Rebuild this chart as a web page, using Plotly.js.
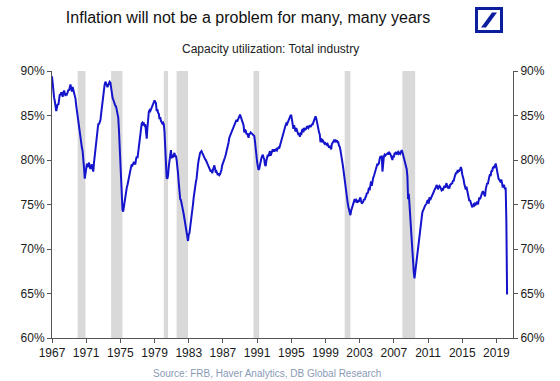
<!DOCTYPE html>
<html><head><meta charset="utf-8">
<script src="https://cdn.plot.ly/plotly-3.0.1.min.js"></script>
<style>html,body{margin:0;padding:0;background:#fff;} #chart{width:560px;height:381px;}</style>
</head><body><div id="chart"></div>
<script>
// Capacity utilization: Total industry (%), monthly from Jan 1967
const startYear = 1967;
const cu1967_1979 = [
89.4,88.4,87.6,87.0,86.6,86.1,85.5,85.9,86.3,86.2,86.9,87.4,
87.3,87.6,87.4,87.1,87.6,87.8,87.5,87.2,87.5,87.4,87.6,87.9,
87.8,88.2,88.5,88.0,87.7,88.2,87.9,87.6,87.3,86.9,86.1,85.5,
84.5,84.0,83.5,82.8,82.3,81.8,81.4,81.0,80.3,79.1,77.9,78.6,
79.4,79.6,79.2,79.5,79.7,79.3,79.0,79.3,79.5,79.0,78.7,79.7,
80.5,81.2,82.0,83.0,83.8,84.1,84.0,84.3,84.5,85.2,86.0,86.8,
87.3,88.0,88.5,88.8,88.6,88.3,88.2,88.4,88.6,88.8,88.7,88.2,
87.2,87.0,86.8,86.5,86.3,86.1,86.0,85.7,85.4,84.8,83.4,81.2,
79.4,77.2,75.2,74.4,74.2,74.8,75.5,76.2,76.7,76.9,77.2,77.6,
78.4,78.8,78.9,79.2,79.5,79.4,79.6,79.8,79.6,79.5,80.1,80.4,
80.2,80.9,81.8,82.5,83.2,83.8,84.1,84.2,84.0,84.1,83.9,84.0,
82.9,82.4,83.6,85.2,85.4,85.6,85.5,85.7,85.9,86.2,86.5,86.6,
86.7,86.5,86.4,85.5,85.7,85.3,85.2,84.6,84.8,84.4,84.3,84.1];
const cu1980_1992 = [
84.2,84.0,83.2,80.9,79.0,78.0,77.9,78.3,79.3,79.8,80.7,81.1,
80.2,80.6,80.3,80.5,80.8,80.4,80.5,80.0,79.4,78.5,77.4,76.3,
75.6,75.5,75.0,74.5,74.2,73.9,73.4,72.8,72.2,71.8,71.2,70.9,
71.6,71.8,72.4,73.0,73.4,74.0,75.0,75.8,76.6,77.2,77.5,77.9,
79.0,79.5,80.0,80.5,80.8,80.9,81.0,80.8,80.6,80.3,80.2,80.1,
80.0,79.8,79.6,79.5,79.3,79.2,78.9,78.7,78.9,78.5,78.9,79.3,
79.4,79.0,78.6,78.7,78.4,78.3,78.5,78.3,78.4,78.6,78.9,79.4,
79.6,80.0,80.1,80.3,80.6,80.9,81.3,81.6,82.0,82.5,82.7,82.9,
83.2,83.4,83.6,83.7,83.9,84.0,84.3,84.5,84.3,84.6,84.7,84.9,
85.1,84.8,84.5,84.4,84.1,83.9,83.1,83.4,83.3,82.9,83.0,82.6,
82.5,83.0,82.9,83.1,83.0,82.9,82.9,82.8,82.7,82.1,81.1,80.4,
79.8,79.3,78.9,79.0,79.5,80.1,80.2,80.4,80.6,80.3,80.1,79.5,
79.3,79.9,80.3,80.6,80.4,80.6,81.0,80.5,80.7,81.1,81.2,81.0];
const cu1993_2005 = [
81.0,81.2,81.0,81.2,81.1,81.3,81.4,81.3,81.6,82.0,82.3,82.7,
82.9,83.0,83.4,83.6,83.9,84.1,84.0,84.2,84.4,84.6,84.9,85.0,
85.0,84.6,84.1,83.5,83.9,83.6,83.2,83.6,83.3,83.0,82.8,83.0,
82.6,83.1,82.8,83.3,83.5,83.1,83.6,83.4,83.5,83.5,83.8,83.6,
83.6,83.8,83.9,83.7,83.9,84.0,84.0,84.3,84.5,84.6,84.9,84.7,
84.2,83.8,83.4,83.1,82.9,82.0,82.4,82.3,82.0,82.1,81.9,81.8,
81.9,81.8,81.7,81.8,81.5,81.4,81.6,81.3,81.2,81.8,82.0,82.1,
82.2,82.1,82.3,82.0,82.2,82.0,82.0,81.6,81.5,81.1,80.7,80.2,
79.6,79.0,78.3,77.8,77.2,76.4,75.8,75.3,74.8,74.3,73.9,73.8,
74.3,74.6,74.9,75.1,75.3,75.6,75.4,75.5,75.3,75.2,75.5,75.3,
75.6,75.8,75.4,75.1,75.2,75.3,75.6,75.5,75.8,75.9,76.3,76.2,
76.5,76.9,76.6,77.1,77.6,77.1,77.8,78.0,78.2,78.5,78.6,79.0,
79.3,79.6,79.5,79.6,80.1,80.4,80.3,80.5,78.7,79.7,80.4,80.6];
const cu2006_2020 = [
80.5,80.6,80.7,80.8,80.8,80.6,80.8,80.7,80.4,80.2,80.0,80.5,
80.3,80.8,80.7,80.9,80.6,80.8,80.9,80.7,80.8,80.7,81.0,81.1,
80.9,80.6,80.4,79.9,79.6,79.4,79.0,78.2,75.6,76.2,74.8,73.3,
71.9,70.6,69.2,68.3,67.4,66.7,67.4,68.1,68.8,69.3,69.7,70.4,
71.6,72.2,72.9,73.3,74.1,74.3,74.6,74.8,74.9,75.0,75.1,75.4,
75.5,75.1,75.8,75.5,75.7,75.9,76.2,76.4,76.6,76.7,76.8,76.9,
77.2,77.0,76.7,77.0,77.1,77.0,76.8,76.6,76.7,76.6,76.9,77.1,
76.9,77.2,77.4,77.0,76.9,77.1,76.8,77.2,77.3,77.4,77.4,77.7,
77.6,78.0,78.4,78.5,78.5,78.7,78.6,78.9,78.8,78.9,79.2,79.0,
78.4,78.2,77.8,77.3,77.0,76.7,77.0,76.5,76.2,76.0,75.4,75.5,
75.1,75.0,74.7,74.8,75.0,74.9,75.1,75.0,75.1,75.3,75.0,75.6,
75.8,75.6,75.9,76.3,76.3,76.5,76.3,76.0,75.9,76.7,77.1,77.4,
77.3,77.9,78.1,78.4,78.2,78.8,78.7,79.1,79.2,79.1,79.4,79.6,
79.2,78.6,78.3,77.9,77.8,77.7,77.5,77.8,77.3,76.9,77.2,77.1,
76.7,76.9,73.2,64.9];

// US recessions (shaded)
const recessionStarts = ['1970-01-01','1973-12-01','1980-02-01','1981-08-01','1990-08-01','2001-04-01','2008-01-01'];
const recessionEnds   = ['1970-11-30','1975-03-31','1980-07-31','1982-11-30','1991-03-31','2001-11-30','2009-06-30'];

const yTicks = [60, 65, 70, 75, 80, 85, 90];
const xTickYears = [1967,1971,1975,1979,1983,1987,1991,1995,1999,2003,2007,2011,2015,2019];

const values = [].concat(cu1967_1979, cu1980_1992, cu1993_2005, cu2006_2020);
const dates = values.map((v, i) => {
  const y = startYear + Math.floor(i / 12);
  const m = (i % 12) + 1;
  return y + '-' + String(m).padStart(2, '0') + '-01';
});

const W = 560, H = 381;
const M = {l: 52, r: 47, t: 71, b: 43};
const pw = W - M.l - M.r, ph = H - M.t - M.b;
const px = x => (x - M.l) / pw;
const py = y => (H - M.b - y) / ph;

const FONT = 'Liberation Sans, Arial, sans-serif';
const lineColor = '#1414cc';

const traces = [
  {x: dates, y: values, type: 'scatter', mode: 'lines',
   line: {color: lineColor, width: 2}, hoverinfo: 'skip', showlegend: false},
  {x: dates, y: values, type: 'scatter', mode: 'lines', yaxis: 'y2',
   line: {color: 'rgba(0,0,0,0)', width: 0}, hoverinfo: 'skip', showlegend: false}
];

const shapes = recessionStarts.map((s, i) => ({
  type: 'rect', xref: 'x', yref: 'paper', x0: s, x1: recessionEnds[i], y0: 0, y1: 1,
  fillcolor: '#d9d9d9', line: {width: 0}, layer: 'below'
}));

// Deutsche Bank logo
const navy = '#0b1f9e';
shapes.push({type: 'rect', xref: 'paper', yref: 'paper',
  x0: px(475), x1: px(503), y0: py(33), y1: py(7),
  fillcolor: navy, line: {width: 0}, layer: 'above'});
shapes.push({type: 'rect', xref: 'paper', yref: 'paper',
  x0: px(478), x1: px(500), y0: py(30), y1: py(10),
  fillcolor: '#ffffff', line: {width: 0}, layer: 'above'});
shapes.push({type: 'path', xref: 'paper', yref: 'paper',
  path: `M ${px(481)} ${py(27.5)} L ${px(486)} ${py(27.5)} L ${px(497)} ${py(12.5)} L ${px(492)} ${py(12.5)} Z`,
  fillcolor: navy, line: {width: 0}, layer: 'above'});

const axisCommon = {
  showgrid: false, zeroline: false, showline: true, linecolor: '#555', linewidth: 1,
  ticks: 'outside', ticklen: 4, tickcolor: '#555', tickwidth: 1,
  tickfont: {family: FONT, size: 12, color: '#1a1a1a'}
};

const layout = {
  width: W, height: H,
  margin: M,
  paper_bgcolor: '#ffffff', plot_bgcolor: '#ffffff',
  showlegend: false,
  title: {text: 'Inflation will not be a problem for many, many years',
    xref: 'container', yref: 'container', x: 248 / W, y: 1 - 17 / H,
    xanchor: 'center', yanchor: 'middle',
    font: {family: FONT, size: 16, color: '#111'}},
  xaxis: Object.assign({}, axisCommon, {
    type: 'date', range: ['1967-01-01', '2020-12-10'],
    tickvals: xTickYears.map(y => y + '-01-01'),
    ticktext: xTickYears.map(String)
  }),
  yaxis: Object.assign({}, axisCommon, {
    range: [60, 90], tickvals: yTicks, ticktext: yTicks.map(v => v + '%')
  }),
  yaxis2: Object.assign({}, axisCommon, {
    range: [60, 90], tickvals: yTicks, ticktext: yTicks.map(v => v + '%'),
    overlaying: 'y', side: 'right'
  }),
  shapes: shapes,
  annotations: [
    {text: 'Capacity utilization: Total industry', xref: 'paper', yref: 'paper',
     x: px(270), y: py(49), xanchor: 'center', yanchor: 'middle', showarrow: false,
     font: {family: FONT, size: 12, color: '#222'}},
    {text: 'Source: FRB, Haver Analytics, DB Global Research', xref: 'paper', yref: 'paper',
     x: px(267), y: py(373), xanchor: 'center', yanchor: 'middle', showarrow: false,
     font: {family: FONT, size: 10, color: '#8a9ab6'}}
  ]
};

Plotly.newPlot('chart', traces, layout, {staticPlot: true, displayModeBar: false});
</script>
</body></html>
